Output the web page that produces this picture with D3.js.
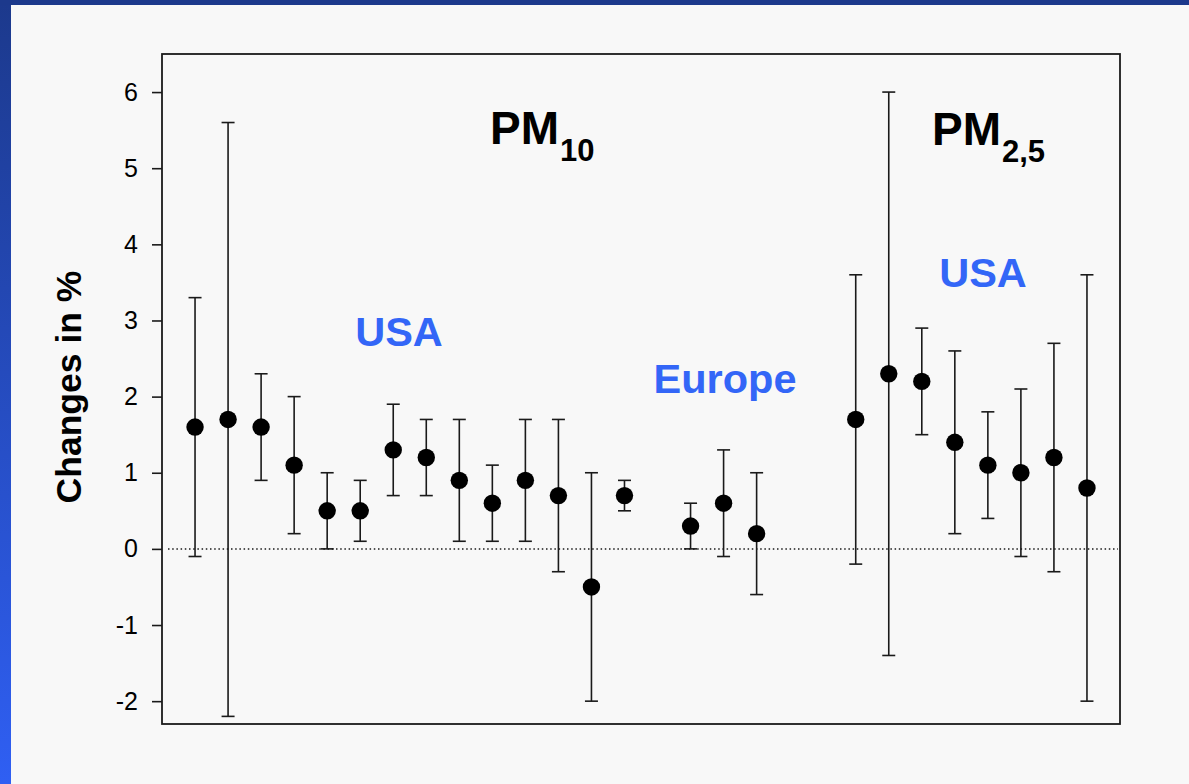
<!DOCTYPE html>
<html>
<head>
<meta charset="utf-8">
<script src="https://cdn.jsdelivr.net/npm/d3@7"></script>
<style>
  html, body { margin: 0; padding: 0; background: #f8f8f8; }
  svg { display: block; }
</style>
</head>
<body>
<script>
// Percent change estimates with 95% confidence limits, one slot per study
const slots   = [0, 1, 2, 3, 4, 5, 6, 7, 8, 9, 10, 11, 12, 13, 15, 16, 17, 20, 21, 22, 23, 24, 25, 26, 27];
const groups  = ["PM10 USA","PM10 USA","PM10 USA","PM10 USA","PM10 USA","PM10 USA","PM10 USA","PM10 USA","PM10 USA","PM10 USA","PM10 USA","PM10 USA","PM10 USA","PM10 USA",
                 "PM10 Europe","PM10 Europe","PM10 Europe",
                 "PM2.5 USA","PM2.5 USA","PM2.5 USA","PM2.5 USA","PM2.5 USA","PM2.5 USA","PM2.5 USA","PM2.5 USA"];
const estimate = [1.6, 1.7, 1.6, 1.1, 0.5, 0.5, 1.3, 1.2, 0.9, 0.6, 0.9, 0.7, -0.5, 0.7, 0.3, 0.6, 0.2, 1.7, 2.3, 2.2, 1.4, 1.1, 1.0, 1.2, 0.8];
const lower    = [-0.1, -2.2, 0.9, 0.2, 0.0, 0.1, 0.7, 0.7, 0.1, 0.1, 0.1, -0.3, -2.0, 0.5, 0.0, -0.1, -0.6, -0.2, -1.4, 1.5, 0.2, 0.4, -0.1, -0.3, -2.0];
const upper    = [3.3, 5.6, 2.3, 2.0, 1.0, 0.9, 1.9, 1.7, 1.7, 1.1, 1.7, 1.7, 1.0, 0.9, 0.6, 1.3, 1.0, 3.6, 6.0, 2.9, 2.6, 1.8, 2.1, 2.7, 3.6];
const yTicks   = [-2, -1, 0, 1, 2, 3, 4, 5, 6];
const yTitle   = "Changes in %";

const W = 1189, H = 784;
const plot = { left: 162, right: 1120, top: 54, bottom: 724 };

const svg = d3.select("body").append("svg").attr("width", W).attr("height", H);

// Slide frame: dark blue strip at the top, blue gradient bar on the left
const defs = svg.append("defs");
const grad = defs.append("linearGradient").attr("id", "sideBar")
  .attr("x1", 0).attr("y1", 0).attr("x2", 0).attr("y2", 1);
grad.append("stop").attr("offset", "0%").attr("stop-color", "#1c398c");
grad.append("stop").attr("offset", "100%").attr("stop-color", "#2f5ff3");

svg.append("rect").attr("x", 0).attr("y", 0).attr("width", W).attr("height", H).attr("fill", "#f8f8f8");
svg.append("rect").attr("x", 0).attr("y", 0).attr("width", 11).attr("height", H).attr("fill", "url(#sideBar)");
svg.append("rect").attr("x", 0).attr("y", 0).attr("width", W).attr("height", 5).attr("fill", "#1c398c");

const x = d3.scaleLinear().domain([-1, 28]).range([plot.left, plot.right]);
const y = d3.scaleLinear().domain([-2.3, 6.5]).range([plot.bottom, plot.top]);

const ink = "#1a1a1a";
const font = "Arial, 'Liberation Sans', sans-serif";

// Plot box
svg.append("rect")
  .attr("x", plot.left).attr("y", plot.top)
  .attr("width", plot.right - plot.left).attr("height", plot.bottom - plot.top)
  .attr("fill", "none").attr("stroke", ink).attr("stroke-width", 1.8);

// Y axis with outward ticks, plain hyphen for negatives
const yAxis = d3.axisLeft(y).tickValues(yTicks).tickFormat(d => String(d)).tickSize(10).tickPadding(14);
const ga = svg.append("g").attr("transform", `translate(${plot.left},0)`).call(yAxis);
ga.select(".domain").remove();
ga.selectAll(".tick line").attr("stroke", ink).attr("stroke-width", 1.6);
ga.selectAll(".tick text")
  .attr("fill", "#000")
  .style("font-family", font)
  .style("font-size", "25px");

// Axis title
svg.append("text")
  .attr("transform", `translate(81,${(271 + 503) / 2}) rotate(-90)`)
  .attr("text-anchor", "middle")
  .style("font-family", font)
  .style("font-size", "35.5px").style("font-weight", "bold")
  .attr("fill", "#000")
  .text(yTitle);

// Zero reference line
svg.append("line")
  .attr("x1", plot.left + 6).attr("x2", plot.right - 2)
  .attr("y1", y(0)).attr("y2", y(0))
  .attr("stroke", ink).attr("stroke-width", 1.5)
  .attr("stroke-dasharray", "1.5,2.7");

// Error bars and point estimates
const rows = slots.map((s, i) => ({ s, g: groups[i], est: estimate[i], lo: lower[i], hi: upper[i] }));
const capHalf = 6.5;
const bars = svg.append("g").attr("stroke", ink).attr("stroke-width", 1.6);
rows.forEach(d => {
  bars.append("line").attr("x1", x(d.s)).attr("x2", x(d.s)).attr("y1", y(d.lo)).attr("y2", y(d.hi));
  bars.append("line").attr("x1", x(d.s) - capHalf).attr("x2", x(d.s) + capHalf).attr("y1", y(d.hi)).attr("y2", y(d.hi));
  bars.append("line").attr("x1", x(d.s) - capHalf).attr("x2", x(d.s) + capHalf).attr("y1", y(d.lo)).attr("y2", y(d.lo));
});
svg.append("g").selectAll("circle").data(rows).join("circle")
  .attr("cx", d => x(d.s)).attr("cy", d => y(d.est)).attr("r", 8.7).attr("fill", "#000");

// Pollutant headings with subscripts
function heading(px, py, main, sub) {
  const t = svg.append("text")
    .attr("x", px).attr("y", py)
    .style("font-family", font)
    .style("font-weight", "bold").attr("fill", "#000");
  t.append("tspan").style("font-size", "46px").text(main);
  t.append("tspan").style("font-size", "31px").attr("dx", 1).attr("dy", 16.5).text(sub);
}
heading(490, 144, "PM", "10");
heading(932, 145, "PM", "2,5");

// Region labels
[["USA", 399, 346], ["Europe", 725, 393], ["USA", 983, 287]].forEach(([txt, cx, by]) => {
  svg.append("text").attr("x", cx).attr("y", by).attr("text-anchor", "middle")
    .style("font-family", font).style("font-size", "41.5px").style("font-weight", "bold")
    .attr("fill", "#3366f7").text(txt);
});
</script>
</body>
</html>
